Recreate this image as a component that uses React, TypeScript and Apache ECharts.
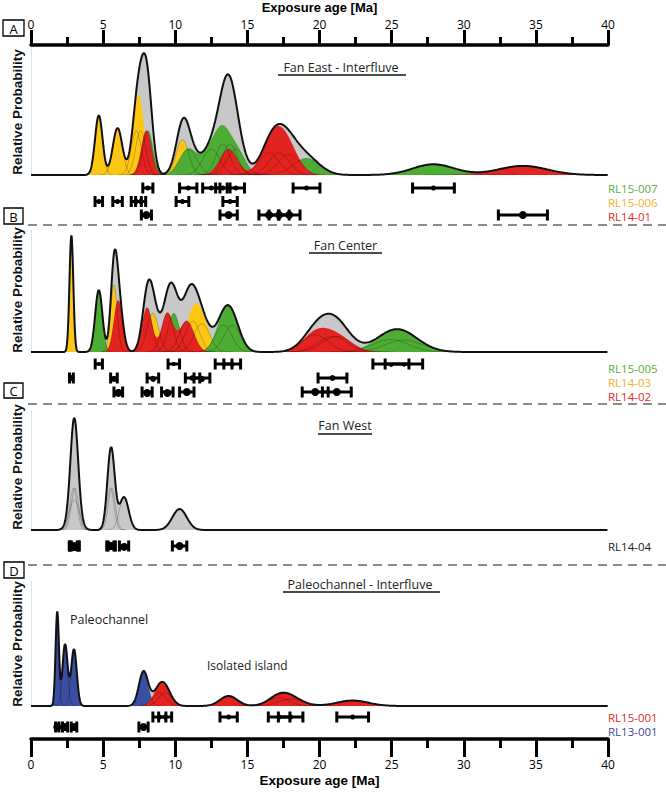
import React, { useEffect, useRef } from "react";
import * as echarts from "echarts";

// ---------------- data (ages and 1-sigma errors in Ma) ----------------
const AXIS_MIN = 0;
const AXIS_MAX = 40;
const AXIS_INTERVAL = 5;

// Panel A - Fan East - Interfluve
const RL15_007_AGES = [8.1, 10.9, 12.5, 13.3, 14.2, 19.1, 27.9];
const RL15_007_ERRS = [0.35, 0.6, 0.6, 0.5, 0.6, 0.93, 1.45];
const RL15_006_AGES = [4.7, 6.0, 7.3, 7.6, 10.5, 13.8];
const RL15_006_ERRS = [0.26, 0.33, 0.35, 0.35, 0.44, 0.5];
const RL14_01_AGES = [8.0, 13.7, 16.5, 17.2, 17.9, 34.1];
const RL14_01_ERRS = [0.35, 0.6, 0.7, 0.7, 0.75, 1.7];

// Panel B - Fan Center
const RL15_005_AGES = [4.7, 9.9, 13.35, 13.95, 24.95, 25.85];
const RL15_005_ERRS = [0.25, 0.4, 0.58, 0.58, 1.25, 1.3];
const RL14_03_AGES = [2.8, 5.75, 8.45, 11.2, 11.85, 20.9];
const RL14_03_ERRS = [0.133, 0.23, 0.4, 0.5, 0.55, 1.0];
const RL14_02_AGES = [6.05, 8.05, 9.45, 10.8, 19.7, 21.2];
const RL14_02_ERRS = [0.3, 0.35, 0.4, 0.5, 0.9, 1.0];

// Panel C - Fan West
const RL14_04_AGES = [2.95, 3.0, 3.05, 5.5, 5.6, 6.45, 10.3];
const RL14_04_ERRS = [0.25, 0.35, 0.25, 0.25, 0.25, 0.32, 0.5];

// Panel D - Paleochannel - Interfluve
const RL15_001_AGES = [8.9, 9.3, 13.7, 17.2, 18.0, 22.3];
const RL15_001_ERRS = [0.45, 0.45, 0.6, 0.75, 0.85, 1.1];
const RL13_001_AGES = [1.82, 2.36, 2.98, 7.8];
const RL13_001_ERRS = [0.117, 0.177, 0.193, 0.32];

// relative probability weight of each sample inside its panel
const RL13_001_WEIGHT = 1.83;

// vertical range of each panel's relative probability axis
const PANEL_Y_MAX = [8.39, 7.87, 11.43, 20.83];

// ---------------- styles ----------------
const GRAY = "#c8c8c8";
const YELLOW = "#fcc713";
const GREEN = "#4dac33";
const RED = "#e2231f";
const BLUE = "#3a4fa2";
const TXT_GREEN = "#55b13a";
const TXT_YELLOW = "#f6ae2d";
const TXT_RED = "#e22a24";
const TXT_BLUE = "#3c4a9c";

const SANS = "'Open Sans', 'Noto Sans', sans-serif";
const BOLD = "'Liberation Sans', Arial, sans-serif";

const LEFT = 31;
const RIGHT = 58;

type Sample = {
  name: string;
  ages: number[];
  errs: number[];
  weight: number;
  fill: string | null;
  dot: number;
  row: number;
};

type Panel = {
  curveTop: number;
  curveHeight: number;
  barTop: number;
  barRowH: number;
  rows: number;
  samples: Sample[]; // in drawing order
};

const PANELS: Panel[] = [
  {
    curveTop: 45,
    curveHeight: 130,
    barTop: 181.25,
    barRowH: 13.5,
    rows: 3,
    samples: [
      { name: "RL15-006", ages: RL15_006_AGES, errs: RL15_006_ERRS, weight: 1, fill: YELLOW, dot: 2.5, row: 1 },
      { name: "RL15-007", ages: RL15_007_AGES, errs: RL15_007_ERRS, weight: 1, fill: GREEN, dot: 2.5, row: 0 },
      { name: "RL14-01", ages: RL14_01_AGES, errs: RL14_01_ERRS, weight: 1, fill: RED, dot: 4, row: 2 },
    ],
  },
  {
    curveTop: 230,
    curveHeight: 122,
    barTop: 357,
    barRowH: 14,
    rows: 3,
    samples: [
      { name: "RL14-03", ages: RL14_03_AGES, errs: RL14_03_ERRS, weight: 1, fill: YELLOW, dot: 3, row: 1 },
      { name: "RL15-005", ages: RL15_005_AGES, errs: RL15_005_ERRS, weight: 1, fill: GREEN, dot: 2, row: 0 },
      { name: "RL14-02", ages: RL14_02_AGES, errs: RL14_02_ERRS, weight: 1, fill: RED, dot: 4, row: 2 },
    ],
  },
  {
    curveTop: 410,
    curveHeight: 120,
    barTop: 539,
    barRowH: 14,
    rows: 1,
    samples: [
      { name: "RL14-04", ages: RL14_04_AGES, errs: RL14_04_ERRS, weight: 1, fill: null, dot: 4, row: 0 },
    ],
  },
  {
    curveTop: 581,
    curveHeight: 125,
    barTop: 712,
    barRowH: 10,
    rows: 2,
    samples: [
      { name: "RL13-001", ages: RL13_001_AGES, errs: RL13_001_ERRS, weight: RL13_001_WEIGHT, fill: BLUE, dot: 4, row: 1 },
      { name: "RL15-001", ages: RL15_001_AGES, errs: RL15_001_ERRS, weight: 1, fill: RED, dot: 2.5, row: 0 },
    ],
  },
];

const STEP = 0.02;
const XS: number[] = [];
for (let i = 0; i <= Math.round((AXIS_MAX - AXIS_MIN) / STEP); i++) XS.push(+(AXIS_MIN + i * STEP).toFixed(3));

function gauss(age: number, err: number, weight: number, x: number) {
  const z = (x - age) / err;
  return (weight * Math.exp(-0.5 * z * z)) / err;
}

function sampleCurve(s: Sample): number[][] {
  return XS.map((x) => {
    let y = 0;
    for (let i = 0; i < s.ages.length; i++) y += gauss(s.ages[i], s.errs[i], s.weight, x);
    return [x, y];
  });
}

function buildOption() {
  const grid: any[] = [];
  const xAxis: any[] = [];
  const yAxis: any[] = [];
  const series: any[] = [];

  const hiddenX = (gi: number) => ({
    type: "value", gridIndex: gi, min: AXIS_MIN, max: AXIS_MAX, interval: AXIS_INTERVAL, show: false,
  });

  PANELS.forEach((p, pi) => {
    const gCurve = pi * 2;
    const gBar = pi * 2 + 1;
    grid[gCurve] = { left: LEFT, right: RIGHT, top: p.curveTop, height: p.curveHeight };
    grid[gBar] = { left: LEFT, right: RIGHT, top: p.barTop, height: p.barRowH * p.rows };

    if (pi === 0) {
      xAxis[gCurve] = {
        type: "value", gridIndex: gCurve, position: "top", min: AXIS_MIN, max: AXIS_MAX, interval: AXIS_INTERVAL,
        name: "Exposure age [Ma]", nameLocation: "middle", nameGap: 31,
        nameTextStyle: { fontFamily: BOLD, fontWeight: "bold", fontSize: 13, color: "#000" },
        axisLine: { show: true, onZero: false, lineStyle: { color: "#000", width: 3.5 } },
        axisTick: { show: true, inside: false, length: 15, lineStyle: { color: "#000", width: 3 } },
        minorTick: { show: true, splitNumber: 2, length: 8, lineStyle: { color: "#000", width: 3 } },
        axisLabel: { margin: 15, fontSize: 12, fontFamily: SANS, color: "#000" },
        splitLine: { show: false },
        minorSplitLine: { show: false },
        z: 6,
      };
    } else {
      xAxis[gCurve] = hiddenX(gCurve);
    }
    xAxis[gBar] = hiddenX(gBar);

    yAxis[gCurve] = {
      type: "value", gridIndex: gCurve, min: 0, max: PANEL_Y_MAX[pi],
      axisLine: { show: true, onZero: false, lineStyle: { color: "#e2e2e2", width: 1 } },
      axisTick: { show: false }, axisLabel: { show: false }, splitLine: { show: false },
    };
    yAxis[gBar] = {
      type: "value", gridIndex: gBar, min: -0.5, max: p.rows - 0.5, inverse: true, show: false,
    };

    // total curve (gray area)
    const curves = p.samples.map(sampleCurve);
    const total = XS.map((x, i) => [x, curves.reduce((a, c) => a + c[i][1], 0)]);
    series.push({
      type: "line", xAxisIndex: gCurve, yAxisIndex: gCurve, data: total, symbol: "none", silent: true,
      lineStyle: { width: 0, opacity: 0 }, areaStyle: { color: GRAY, opacity: 1 }, z: 1,
    });
    // sample areas
    p.samples.forEach((s, si) => {
      if (!s.fill) return;
      series.push({
        type: "line", xAxisIndex: gCurve, yAxisIndex: gCurve, data: curves[si], symbol: "none", silent: true,
        lineStyle: { width: 0, opacity: 0 }, areaStyle: { color: s.fill, opacity: 1 }, z: 2,
      });
    });
    // individual gaussians (thin lines)
    p.samples.forEach((s) => {
      s.ages.forEach((a, k) => {
        const e = s.errs[k];
        const pts = XS.filter((x) => x >= a - 4 * e && x <= a + 4 * e).map((x) => [x, gauss(a, e, s.weight, x)]);
        series.push({
          type: "line", xAxisIndex: gCurve, yAxisIndex: gCurve, data: pts, symbol: "none", silent: true,
          lineStyle: { width: 0.6, color: "rgba(0,0,0,0.35)" }, z: 3,
        });
      });
    });
    // total outline
    series.push({
      type: "line", xAxisIndex: gCurve, yAxisIndex: gCurve, data: total, symbol: "none", silent: true,
      lineStyle: { width: 2, color: "#111" }, z: 4,
    });

    // error bars
    const barData: number[][] = [];
    p.samples.forEach((s) => s.ages.forEach((a, k) => barData.push([a, s.errs[k], s.row, s.dot])));
    series.push({
      type: "custom", xAxisIndex: gBar, yAxisIndex: gBar, data: barData, silent: true, z: 5,
      encode: { x: 0, y: 2 },
      renderItem: (_params: any, api: any) => {
        const a = api.value(0);
        const e = api.value(1);
        const r = api.value(2);
        const d = api.value(3);
        const p0 = api.coord([a - e, r]);
        const p1 = api.coord([a + e, r]);
        const pc = api.coord([a, r]);
        const h = 5.5;
        const st = { stroke: "#000", lineWidth: 3 };
        return {
          type: "group",
          children: [
            { type: "line", shape: { x1: p0[0], y1: p0[1], x2: p1[0], y2: p1[1] }, style: st },
            { type: "line", shape: { x1: p0[0], y1: p0[1] - h, x2: p0[0], y2: p0[1] + h }, style: st },
            { type: "line", shape: { x1: p1[0], y1: p1[1] - h, x2: p1[0], y2: p1[1] + h }, style: st },
            { type: "circle", shape: { cx: pc[0], cy: pc[1], r: d }, style: { fill: "#000" } },
          ],
        };
      },
    });
  });

  // bottom axis
  grid[8] = { left: LEFT, right: RIGHT, top: 700, height: 39 };
  xAxis[8] = {
    type: "value", gridIndex: 8, position: "bottom", min: AXIS_MIN, max: AXIS_MAX, interval: AXIS_INTERVAL,
    name: "Exposure age [Ma]", nameLocation: "middle", nameGap: 34,
    nameTextStyle: { fontFamily: BOLD, fontWeight: "bold", fontSize: 13.5, color: "#000" },
    axisLine: { show: true, onZero: false, lineStyle: { color: "#000", width: 3.5 } },
    axisTick: { show: true, inside: false, length: 18, lineStyle: { color: "#000", width: 3 } },
    minorTick: { show: true, splitNumber: 2, length: 9, lineStyle: { color: "#000", width: 3 } },
    axisLabel: { margin: 19, fontSize: 12, fontFamily: SANS, color: "#000" },
    splitLine: { show: false },
    minorSplitLine: { show: false },
  };
  yAxis[8] = { type: "value", gridIndex: 8, min: 0, max: 1, show: false };

  // ---------------- decorations ----------------
  const graphic: any[] = [];
  const box = (x: number, y: number, w: number, h: number, t: string) => {
    graphic.push({ type: "rect", shape: { x, y, width: w, height: h }, style: { fill: "#fff", stroke: "#000", lineWidth: 1.3 }, z: 10 });
    graphic.push({
      type: "text", x: x + w / 2, y: y + h / 2 + 0.5, z: 11,
      style: { text: t, fill: "#000", font: `13px ${SANS}`, align: "center", verticalAlign: "middle" },
    });
  };
  const dash = (y: number) =>
    graphic.push({
      type: "line", shape: { x1: 28, y1: y, x2: 666, y2: y }, z: 9,
      style: { stroke: "#666", lineWidth: 1.5, lineDash: [9, 6] },
    });
  const title = (t: string, cx: number, cy: number, x1: number, x2: number, uy: number, size = 12.5) => {
    graphic.push({
      type: "text", x: cx, y: cy, z: 10,
      style: { text: t, fill: "#222", font: `${size}px ${SANS}`, align: "center", verticalAlign: "middle" },
    });
    graphic.push({ type: "line", shape: { x1, y1: uy, x2, y2: uy }, style: { stroke: "#111", lineWidth: 1.5 }, z: 10 });
  };
  const label = (t: string, x: number, y: number, c: string, size = 11.5, align = "left") =>
    graphic.push({
      type: "text", x, y, z: 10,
      style: { text: t, fill: c, font: `${size}px ${SANS}`, align, verticalAlign: "middle" },
    });
  const yName = (cy: number) =>
    graphic.push({
      type: "text", x: 17, y: cy, rotation: Math.PI / 2, z: 10,
      style: { text: "Relative Probability", fill: "#111", font: `bold 13.5px ${BOLD}`, align: "center", verticalAlign: "middle" },
    });

  dash(225);
  dash(404);
  dash(565);
  box(3, 20, 21, 16, "A");
  box(4, 208, 19, 16, "B");
  box(4, 383, 19, 15, "C");
  box(4, 562, 20, 16, "D");

  title("Fan East - Interfluve", 341, 67, 278, 406, 75);
  title("Fan Center", 345.5, 245, 309, 382, 253);
  title("Fan West", 345, 425, 318, 372, 434);
  title("Paleochannel - Interfluve", 360, 584, 283, 440, 592);

  label("Paleochannel", 70, 619, "#222", 12.5);
  label("Isolated island", 207, 665, "#222", 12);

  label("RL15-007", 608, 188, TXT_GREEN);
  label("RL15-006", 608, 202, TXT_YELLOW);
  label("RL14-01", 608, 216, TXT_RED);
  label("RL15-005", 608, 368, TXT_GREEN);
  label("RL14-03", 608, 382, TXT_YELLOW);
  label("RL14-02", 608, 396, TXT_RED);
  label("RL14-04", 608, 546, "#222");
  label("RL15-001", 608, 717, TXT_RED);
  label("RL13-001", 608, 731, TXT_BLUE);

  yName(112);
  yName(290);
  yName(467);
  yName(644);

  return {
    animation: false,
    backgroundColor: "#fff",
    grid,
    xAxis,
    yAxis,
    series,
    graphic: { elements: graphic },
  };
}

export default function App() {
  const ref = useRef<HTMLDivElement>(null);
  useEffect(() => {
    if (!ref.current) return;
    const chart = echarts.init(ref.current, undefined, { renderer: "svg" });
    chart.setOption(buildOption() as any);
    return () => chart.dispose();
  }, []);
  return (
    <div
      ref={ref}
      style={{ position: "absolute", left: 0, top: 0, width: 666, height: 793, background: "#fff" }}
    />
  );
}
